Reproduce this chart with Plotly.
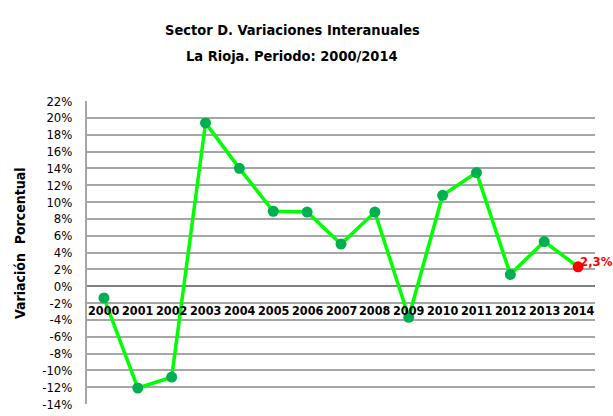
import plotly.graph_objects as go

years = ["2000","2001","2002","2003","2004","2005","2006","2007","2008","2009","2010","2011","2012","2013","2014"]
values = [-1.4, -12.1, -10.8, 19.4, 14.0, 8.9, 8.8, 5.0, 8.8, -3.7, 10.8, 13.5, 1.4, 5.3, 2.3]
ytick_vals = list(range(-14, 23, 2))
ytick_text = [f"{v}%" for v in ytick_vals]
last_label = "2,3%"
title_lines = ["Sector D. Variaciones Interanuales", "La Rioja. Periodo: 2000/2014"]
y_title = "Variación  Porcentual"

FONT = "DejaVu Sans Condensed, Liberation Sans, sans-serif"
W, H = 613, 416
L, R, T, B = 87, 18, 101, 12
pw, ph = W - L - R, H - T - B

def px(xpix):
    return (xpix - L) / pw

def py(ypix):
    return 1 + (T - ypix) / ph

fig = go.Figure()
fig.add_trace(go.Scatter(
    x=years, y=values, mode="lines+markers",
    line=dict(color="#00FF00", width=3.5),
    marker=dict(size=11, color=["#00B050"] * (len(years) - 1) + ["#FF0000"]),
    showlegend=False, hoverinfo="x+y",
))

annotations = []
for i, yr in enumerate(years):
    annotations.append(dict(x=i, y=0, xref="x", yref="y", text=f"<b>{yr}</b>",
                            showarrow=False, yanchor="top", yshift=-15,
                            font=dict(family=FONT, size=12.5, color="black")))
annotations.append(dict(x=len(years) - 1, y=values[-1], xref="x", yref="y", text=f"<b>{last_label}</b>",
                        showarrow=False, xanchor="left", yanchor="bottom", xshift=0, yshift=-4,
                        font=dict(family=FONT, size=13, color="#FF0000")))
for line, ypix in zip(title_lines, [30, 56]):
    annotations.append(dict(x=px(292), y=py(ypix), xref="paper", yref="paper", xanchor="center", yanchor="middle",
                            text=f"<b>{line}</b>", showarrow=False,
                            font=dict(family=FONT, size=14.5, color="black")))
annotations.append(dict(x=px(20), y=py(243), xref="paper", yref="paper", xanchor="center", yanchor="middle",
                        text=f"<b>{y_title}</b>", showarrow=False, textangle=-90,
                        font=dict(family=FONT, size=14, color="black")))

fig.update_layout(
    width=W, height=H,
    margin=dict(l=L, r=R, t=T, b=B),
    paper_bgcolor="white", plot_bgcolor="white",
    annotations=annotations,
    xaxis=dict(type="category", range=[-0.5, 14.5], showticklabels=False, showgrid=False,
               zeroline=False, showline=False, automargin=False),
    yaxis=dict(range=[-14, 22], tickvals=ytick_vals, ticktext=ytick_text,
               showgrid=True, gridcolor="#A6A6A6", gridwidth=1.5,
               zeroline=True, zerolinecolor="#808080", zerolinewidth=2,
               showline=True, linecolor="#A6A6A6", linewidth=2,
               ticks="outside", ticklen=10, tickcolor="rgba(0,0,0,0)", automargin=False,
               tickfont=dict(family=FONT, size=13, color="black")),
)

fig.write_html("out.html", config={"displayModeBar": False},
               post_script="document.body.style.margin='0';document.body.style.overflow='hidden';")
